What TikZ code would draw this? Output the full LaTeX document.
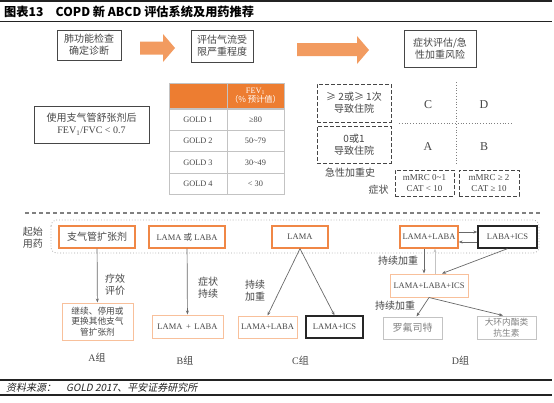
\documentclass[tikz,border=0pt]{standalone}
\usepackage{fontspec}
\setmainfont{Liberation Serif}
\newfontfamily\cjk{Noto Sans CJK SC}
\newfontfamily\cjkit[FakeSlant=0.2]{Noto Sans CJK SC}
\usepackage{xcolor}
\definecolor{ArrowOrange}{RGB}{242,155,96}
\definecolor{HeadOrange}{RGB}{237,125,49}
\definecolor{BoxOrange}{RGB}{240,135,70}
\definecolor{PaleOrange}{RGB}{248,192,155}
\definecolor{TextGray}{RGB}{70,70,70}
\definecolor{LineGray}{RGB}{105,105,105}
\definecolor{LightGray}{RGB}{195,195,195}
\definecolor{RuleGray}{RGB}{35,35,35}
\newcommand\zhbig{\cjk\fontsize{10}{12}\selectfont}
\newcommand\zhsmall{\cjk\fontsize{8.7}{10.5}\selectfont}
\newcommand\ensmall{\rmfamily\fontsize{8.5}{10}\selectfont}
\usetikzlibrary{positioning,arrows.meta}

\begin{document}
\begin{tikzpicture}[x=1pt, y=-1pt,
    tb/.style={rectangle, draw=TextGray, line width=0.8pt, align=center, text=TextGray, inner sep=1pt, font=\zhbig},
    ob/.style={tb, draw=BoxOrange, line width=1.3pt},
    pb/.style={tb, draw=PaleOrange, line width=1pt},
    gb/.style={tb, draw=LightGray, line width=1pt, text=gray},
    kb/.style={tb, draw=black!85, line width=1.3pt},
    db/.style={tb, line width=1pt, dash pattern=on 4pt off 2pt},
    cell/.style={rectangle, draw=LightGray, line width=0.6pt, minimum width=58pt, minimum height=21.5pt,
                 inner sep=0pt, align=center, text=TextGray, font=\rmfamily\fontsize{8.3}{9}\selectfont},
    lb/.style={text=TextGray, align=center, inner sep=0pt, font=\zhbig},
    a/.style={-{Stealth[length=4pt, width=3pt]}, draw=LineGray, line width=0.7pt}
]
    \useasboundingbox (0,0) rectangle (554,402);
    \draw[RuleGray, line width=1.2pt] (0,1) -- (552,1);
    \draw[RuleGray, line width=1.8pt] (0,21.5) -- (552,21.5);
    \node[anchor=west, inner sep=0pt, text=black, font=\cjk\bfseries\fontsize{12.2}{14}\selectfont] (title) at (4,11.5)
        {图表13\quad COPD 新 ABCD 评估系统及用药推荐};

    \node[tb, minimum width=64pt, minimum height=30pt] (lung) at (89,45) {肺功能检查\\确定诊断};
    \node[tb, minimum width=62pt, minimum height=32pt] (flow) at (222,46) {评估气流受\\限严重程度};
    \node[tb, minimum width=72pt, minimum height=37pt] (risk) at (440,48.5) {症状评估/急\\性加重风险};
    \fill[ArrowOrange] (140,41.5) -- (163,41.5) -- (163,34) -- (175,48) -- (163,62) -- (163,54.5) -- (140,54.5) -- cycle;
    \fill[ArrowOrange] (297,43) -- (357,43) -- (357,36) -- (369,50) -- (357,64) -- (357,56) -- (297,56) -- cycle;

    \node[tb, font=\rmfamily\fontsize{10}{12}\selectfont, minimum width=115pt, minimum height=37pt] (fev) at (91.5,124.5)
        {{\cjk 使用支气管舒张剂后}\\FEV\textsubscript{1}/FVC < 0.7};

    \node[cell, fill=HeadOrange, minimum height=26pt] (h0) at (198,96) {};
    \node[cell, fill=HeadOrange, text=white, minimum height=26pt, minimum width=57pt] (h1) at (255.5,96)
        {FEV\textsubscript{1}\\{\cjk （\% 预计值）}};
    \node[cell] (g1) at (198,119.5) {GOLD 1};
    \node[cell, minimum width=57pt] (v1) at (255.5,119.5) {≥80};
    \node[cell] (g2) at (198,141) {GOLD 2};
    \node[cell, minimum width=57pt] (v2) at (255.5,141) {50\textasciitilde79};
    \node[cell] (g3) at (198,162.5) {GOLD 3};
    \node[cell, minimum width=57pt] (v3) at (255.5,162.5) {30\textasciitilde49};
    \node[cell] (g4) at (198,184) {GOLD 4};
    \node[cell, minimum width=57pt] (v4) at (255.5,184) {< 30};

    \node[db, minimum width=74pt, minimum height=38pt] (hi) at (354,103) {≥ 2或≥ 1次\\导致住院};
    \node[db, minimum width=74pt, minimum height=37pt] (lo) at (354,144.5) {0或1\\导致住院};
    \draw[gray, dotted, line width=0.8pt] (456,82) -- (456,165);
    \draw[gray, dotted, line width=0.8pt] (399,123) -- (513,123);
    \node[lb, font=\rmfamily\fontsize{12}{14}\selectfont] (qc) at (428,105) {C};
    \node[lb, font=\rmfamily\fontsize{12}{14}\selectfont] (qd) at (484,105) {D};
    \node[lb, font=\rmfamily\fontsize{12}{14}\selectfont] (qa) at (428,147) {A};
    \node[lb, font=\rmfamily\fontsize{12}{14}\selectfont] (qb) at (484,147) {B};
    \node[lb] (hist) at (350,173) {急性加重史};
    \node[lb] (sym) at (378.5,190) {症状};
    \node[db, font=\rmfamily\fontsize{9}{11}\selectfont, minimum width=59pt, minimum height=26pt] (few) at (424.5,183)
        {mMRC 0\textasciitilde1\\CAT < 10};
    \node[db, font=\rmfamily\fontsize{9}{11}\selectfont, minimum width=60pt, minimum height=26pt] (many) at (489,183)
        {mMRC ≥ 2\\CAT ≥ 10};

    \draw[gray, line width=1.1pt, dash pattern=on 4pt off 3pt] (25,213) -- (540,213);
    \draw[gray!70, dotted, line width=0.8pt, rounded corners=6pt] (51,220) rectangle (539,253);
    \node[lb] (init) at (33,238) {起始\\用药};

    \node[ob, minimum width=76pt, minimum height=22pt] (bronch) at (97,237) {支气管扩张剂};
    \node[ob, font=\ensmall, minimum width=76pt, minimum height=22pt] (single) at (187,237) {LAMA {\cjk 或} LABA};
    \node[ob, font=\ensmall, minimum width=56pt, minimum height=22pt] (lama) at (300,237) {LAMA};
    \node[ob, font=\ensmall, minimum width=58pt, minimum height=22pt] (dual) at (429,237) {LAMA+LABA};
    \node[kb, font=\ensmall, minimum width=59pt, minimum height=22pt] (labaics) at (507.5,237) {LABA+ICS};
    \node[pb, font=\ensmall, minimum width=78pt, minimum height=23pt] (triple) at (429,285.5) {LAMA+LABA+ICS};

    \node[pb, font=\zhsmall, minimum width=71pt, minimum height=37pt] (keep) at (97.5,321.5) {继续、停用或\\更换其他支气\\管扩张剂};
    \node[pb, font=\ensmall, minimum width=71pt, minimum height=23pt] (bcomb) at (187.5,326.5) {LAMA \,+\, LABA};
    \node[pb, font=\ensmall, minimum width=59pt, minimum height=22pt] (ccomb) at (267.5,327) {LAMA+LABA};
    \node[kb, font=\ensmall, minimum width=57pt, minimum height=22pt] (cics) at (334.5,327) {LAMA+ICS};
    \node[gb, minimum width=59pt, minimum height=22pt] (roflu) at (412.5,328) {罗氟司特};
    \node[gb, font=\zhsmall, minimum width=59pt, minimum height=23pt] (macro) at (506.5,327.5) {大环内酯类\\抗生素};

    \draw[a] (bronch) -- (keep);
    \draw[a] (single) -- (bcomb);
    \draw[a] (lama.south) -- (ccomb.north);
    \draw[a] (lama.south) -- (cics.north);
    \draw[a] ([yshift=5pt]dual.east) -- ([yshift=5pt]labaics.west);
    \draw[a] ([yshift=-5pt]labaics.west) -- ([yshift=-5pt]dual.east);
    \draw[a] ([xshift=-5pt]dual.south) -- ([xshift=-5pt]triple.north);
    \draw[a, draw=LightGray] ([xshift=6pt]triple.north) -- ([xshift=6pt]dual.south);
    \draw[a] (labaics.south) -- ([xshift=13pt]triple.north);
    \draw[a] (triple.south) -- ([xshift=4pt]roflu.north);
    \draw[a] (triple.south) -- ([xshift=-3.5pt]macro.north);

    \node[lb] (eval) at (115,285) {疗效\\评价};
    \node[lb] (persist) at (208,288) {症状\\持续};
    \node[lb] (worse1) at (255,291) {持续\\加重};
    \node[lb] (worse2) at (398,261) {持续加重};
    \node[lb] (worse3) at (395,306) {持续加重};

    \node[lb, font=\rmfamily\fontsize{10}{12}\selectfont] (ga) at (97,358) {A{\cjk 组}};
    \node[lb, font=\rmfamily\fontsize{10}{12}\selectfont] (gb) at (185,361) {B{\cjk 组}};
    \node[lb, font=\rmfamily\fontsize{10}{12}\selectfont] (gc) at (300.5,361) {C{\cjk 组}};
    \node[lb, font=\rmfamily\fontsize{10}{12}\selectfont] (gd) at (460.5,361) {D{\cjk 组}};

    \draw[RuleGray, line width=1.8pt] (0,380) -- (552,380);
    \draw[RuleGray, line width=1.2pt] (0,395) -- (552,395);
    \node[anchor=west, inner sep=0pt, text=RuleGray, font=\cjkit\fontsize{10}{12}\selectfont] (src) at (6,387.5)
        {资料来源：\quad GOLD 2017、平安证券研究所};
\end{tikzpicture}
\end{document}
